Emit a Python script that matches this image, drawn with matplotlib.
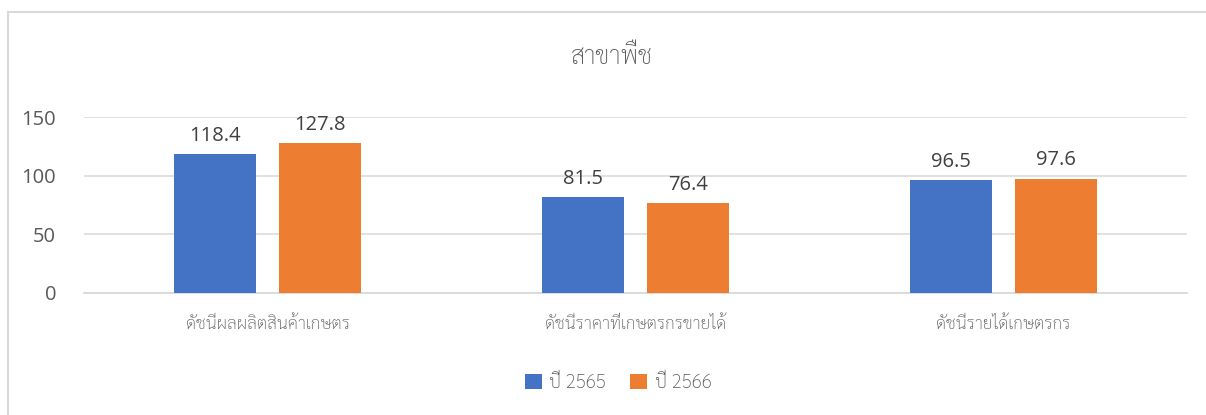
import matplotlib
matplotlib.use("Agg")
import matplotlib.pyplot as plt
from matplotlib.patches import Rectangle
import numpy as np

title = "สาขาพืช"
categories = ["ดัชนีผลผลิตสินค้าเกษตร", "ดัชนีราคาที่เกษตรกรขายได้", "ดัชนีรายได้เกษตรกร"]
series_names = ["ปี 2565", "ปี 2566"]
values_2565 = [118.4, 81.5, 96.5]
values_2566 = [127.8, 76.4, 97.6]
yticks = [0, 50, 100, 150]

THAI = ["Sarabun", "DejaVu Sans"]
NUM = ["Open Sans", "DejaVu Sans"]

fig = plt.figure(figsize=(12.06, 4.15), dpi=100)
fig.patch.set_facecolor("white")
fig.patches.append(Rectangle((7.5 / 1206, -0.1), 1.2, 1 - 12.5 / 415 + 0.1,
                             transform=fig.transFigure, fill=False,
                             edgecolor="#d9d9d9", lw=1.5, clip_on=False))

ax = fig.add_axes([84 / 1206, 1 - 292.7 / 415, (1187 - 84) / 1206, (292.7 - 117.3) / 415])
x = np.arange(len(categories))
w = 0.223
off = 0.143
colors = ["#4472C4", "#ED7D31"]
for vals, o, c, name in [(values_2565, -off, colors[0], series_names[0]),
                         (values_2566, off, colors[1], series_names[1])]:
    bars = ax.bar(x + o, vals, width=w, color=c, label=name, zorder=3)
    for b, v in zip(bars, vals):
        ax.annotate(f"{v:.1f}", (b.get_x() + b.get_width() / 2, v), xytext=(0, 6),
                    textcoords="offset points", ha="center", va="bottom",
                    fontsize=14.5, color="#404040", family=NUM)

ax.set_xlim(-0.5, len(categories) - 0.5)
ax.set_ylim(0, 150)
ax.set_yticks(yticks)
ax.set_yticklabels([str(t) for t in yticks], fontsize=14.5, color="#595959", family=NUM)
ax.tick_params(axis="y", length=0, pad=20)
ax.set_xticks(x)
ax.set_xticklabels(categories, fontsize=12.5, color="#595959", family=THAI, fontweight="light")
ax.tick_params(axis="x", length=0, pad=17)
ax.yaxis.grid(True, color="#d9d9d9", lw=1.1, zorder=0)
ax.set_axisbelow(True)
for s in ["left", "right", "top"]:
    ax.spines[s].set_visible(False)
ax.spines["bottom"].set_color("#d9d9d9")
ax.spines["bottom"].set_linewidth(1.3)

fig.text(612 / 1206, 1 - 58 / 415, title, ha="center", va="center",
         fontsize=18, color="#595959", family=THAI, fontweight="light")

handles, labels = ax.get_legend_handles_labels()
fig.legend(handles, labels, loc="center", bbox_to_anchor=(618 / 1206, 1 - 383 / 415),
           ncol=2, frameon=False, handlelength=0.9, handleheight=0.9,
           handletextpad=0.4, columnspacing=1.3,
           prop={"family": THAI, "size": 13.5, "weight": "light"}, labelcolor="#595959")

fig.savefig("out.png", dpi=100, facecolor="white")
